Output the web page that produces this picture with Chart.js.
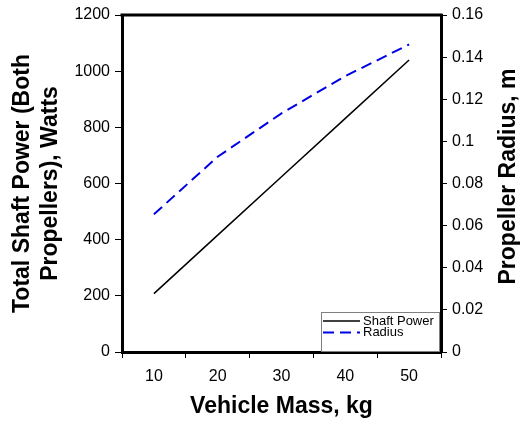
<!DOCTYPE html>
<html>
<head>
<meta charset="utf-8">
<script src="https://cdn.jsdelivr.net/npm/chart.js@4"></script>
<style>
  html, body { margin: 0; padding: 0; background: #fff; }
  #wrap { width: 521px; height: 424px; }
</style>
</head>
<body>
<div id="wrap"><canvas id="c" width="521" height="424"></canvas></div>
<script>
const masses = ["10", "20", "30", "40", "50"];
const shaftPower = [208, 416, 624, 832, 1040];
const radius = [0.0654, 0.0927, 0.1133, 0.131, 0.146];
const powerTicks = [0, 200, 400, 600, 800, 1000, 1200];
const radiusTicks = [0, 0.02, 0.04, 0.06, 0.08, 0.1, 0.12, 0.14, 0.16];

const FONT = "'Liberation Sans', Arial, sans-serif";
const rightTitle = "Propeller Radius, m";

// legend box drawn by hand, sits over the bottom right of the plot
const boxLegend = {
  id: "boxLegend",
  afterDraw(chart) {
    const ctx = chart.ctx;
    const x = 321, y = 312, w = 118, h = 39;
    ctx.save();
    ctx.fillStyle = "#fff";
    ctx.fillRect(x, y, w, h);
    ctx.strokeStyle = "#808080";
    ctx.lineWidth = 1;
    ctx.strokeRect(x + 0.5, y + 0.5, w, h);
    ctx.font = "13px " + FONT;
    ctx.textBaseline = "middle";
    chart.data.datasets.forEach((ds, i) => {
      const ly = y + 9 + i * 11.5;
      ctx.beginPath();
      ctx.strokeStyle = ds.borderColor;
      ctx.lineWidth = ds.borderWidth;
      ctx.setLineDash(ds.borderDash || []);
      ctx.moveTo(x + 2, ly);
      ctx.lineTo(x + 39, ly);
      ctx.stroke();
      ctx.setLineDash([]);
      ctx.fillStyle = "#000";
      ctx.fillText(ds.label, x + 42, ly);
    });
    ctx.restore();
  }
};

// top border of the plot box + right axis title reading bottom to top
const extras = {
  id: "extras",
  afterDraw(chart) {
    const a = chart.chartArea, ctx = chart.ctx;
    ctx.save();
    ctx.strokeStyle = "#000";
    ctx.lineWidth = 3;
    ctx.beginPath();
    ctx.moveTo(a.left - 1.5, a.top);
    ctx.lineTo(a.right + 1.5, a.top);
    ctx.stroke();

    ctx.translate(509, (a.top + a.bottom) / 2 - 7);
    ctx.rotate(-Math.PI / 2);
    ctx.font = "bold 23px " + FONT;
    ctx.fillStyle = "#000";
    ctx.textAlign = "center";
    ctx.textBaseline = "middle";
    ctx.fillText(rightTitle, 0, 0);
    ctx.restore();
  }
};

new Chart(document.getElementById("c"), {
  type: "line",
  data: {
    labels: masses,
    datasets: [
      {
        label: "Shaft Power",
        data: shaftPower,
        yAxisID: "y",
        borderColor: "#000",
        borderWidth: 1.5,
        pointRadius: 0,
        tension: 0
      },
      {
        label: "Radius",
        data: radius,
        yAxisID: "y1",
        borderColor: "#0000e6",
        borderWidth: 2,
        borderDash: [11, 6],
        pointRadius: 0,
        tension: 0
      }
    ]
  },
  options: {
    responsive: false,
    animation: false,
    layout: { padding: { top: 15 } },
    plugins: { legend: { display: false }, tooltip: { enabled: false } },
    scales: {
      x: {
        type: "category",
        offset: true,
        grid: { offset: true, drawOnChartArea: false, color: "#000", tickLength: 6, lineWidth: 1 },
        border: { color: "#000", width: 3 },
        ticks: { color: "#000", font: { family: FONT, size: 16 }, padding: 9, maxRotation: 0 },
        title: { display: true, text: "Vehicle Mass, kg", color: "#000", font: { family: FONT, size: 23, weight: "bold" }, padding: { top: 4 } },
        afterFit(s) { s.height = 72; }
      },
      y: {
        position: "left",
        min: 0, max: 1200,
        afterBuildTicks(s) { s.ticks = powerTicks.map(v => ({ value: v })); },
        grid: { drawOnChartArea: false, color: "#000", tickLength: 7 },
        border: { color: "#000", width: 3 },
        ticks: { color: "#000", font: { family: FONT, size: 16 }, padding: 5, callback: v => String(v) },
        title: { display: true, text: ["Total Shaft Power (Both", "Propellers), Watts"], color: "#000", font: { family: FONT, size: 23, weight: "bold", lineHeight: 1.2 }, padding: { top: 9, bottom: 0 } },
        afterFit(s) { s.width = 122; }
      },
      y1: {
        position: "right",
        min: 0, max: 0.16,
        afterBuildTicks(s) { s.ticks = radiusTicks.map(v => ({ value: v })); },
        grid: { drawOnChartArea: false, color: "#000", tickLength: 6 },
        border: { color: "#000", width: 3 },
        ticks: { color: "#000", font: { family: FONT, size: 16 }, padding: 5, callback: v => String(+v.toFixed(2)) },
        afterFit(s) { s.width = 80; }
      }
    }
  },
  plugins: [boxLegend, extras]
});
</script>
</body>
</html>
